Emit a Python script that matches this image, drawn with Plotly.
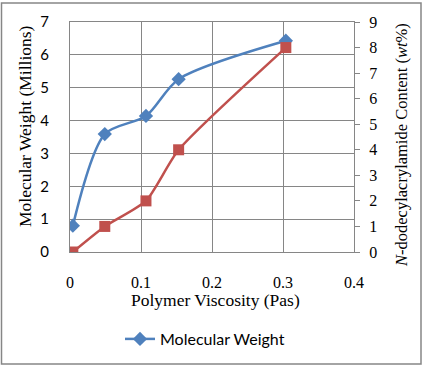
import plotly.graph_objects as go

viscosity = [0.004, 0.049, 0.107, 0.153, 0.304]
mol_weight = [0.80, 3.59, 4.14, 5.26, 6.43]
wt_content = [0, 1, 2, 4, 8]

x_ticks = [0, 0.1, 0.2, 0.3, 0.4]
x_tick_text = ["0", "0.1", "0.2", "0.3", "0.4"]

L, R, T, B = 70, 354, 22, 252
W, H = R - L, B - T

def px(x):
    return (x - L) / W

def py(y):
    return (B - y) / H

fig = go.Figure()
fig.add_trace(go.Scatter(
    x=viscosity, y=wt_content, yaxis="y2", mode="lines+markers",
    line=dict(color="#C0504D", width=2.5, shape="spline", smoothing=0.6),
    marker=dict(symbol="square", size=11, color="#C0504D"),
    name="N-dodecylacrylamide Content", showlegend=False))
fig.add_trace(go.Scatter(
    x=viscosity, y=mol_weight, mode="lines+markers",
    line=dict(color="#4F81BD", width=2.5, shape="spline", smoothing=0.8),
    marker=dict(symbol="diamond", size=11, color="#4F81BD"),
    name="Molecular Weight"))

grid = "#868686"
fig.update_layout(
    width=426, height=368,
    margin=dict(l=L, r=426 - R, t=T, b=368 - B, autoexpand=False),
    paper_bgcolor="white", plot_bgcolor="white",
    xaxis=dict(range=[0, 0.4], tickvals=x_ticks, ticktext=x_tick_text,
               showgrid=True, gridcolor=grid, gridwidth=1, zeroline=False,
               showline=True, linecolor=grid, mirror=True, ticks="",
               ticklabelstandoff=16, automargin=False,
               tickfont=dict(family="Liberation Serif", size=16, color="black")),
    yaxis=dict(range=[0, 7], dtick=1, showgrid=True, gridcolor=grid,
               zeroline=False, showline=True, linecolor=grid, mirror=True,
               ticks="", ticklabelstandoff=17, automargin=False,
               tickfont=dict(family="Lato", size=15, color="black")),
    yaxis2=dict(range=[0, 9], dtick=1, overlaying="y", side="right",
                showgrid=False, zeroline=False, showline=True, linecolor=grid,
                ticks="outside", ticklen=5, tickcolor=grid,
                ticklabelstandoff=6, automargin=False,
                tickfont=dict(family="Liberation Serif", size=16, color="black")),
    legend=dict(orientation="h", x=px(120), y=py(322), xanchor="left",
                yanchor="top", font=dict(family="Lato", size=16, color="black"),
                bgcolor="rgba(0,0,0,0)"),
    showlegend=True,
)

fig.add_annotation(text="Polymer Viscosity (Pas)", xref="paper", yref="paper",
                   x=px(215), y=py(300), showarrow=False,
                   xanchor="center", yanchor="middle",
                   font=dict(family="Liberation Serif", size=17.5, color="black"))
fig.add_annotation(text="Molecular Weight (Millions)", xref="paper", yref="paper",
                   x=px(25), y=py(126), showarrow=False, textangle=-90,
                   xanchor="center", yanchor="middle",
                   font=dict(family="Liberation Serif", size=17.5, color="black"))
fig.add_annotation(text="<i>N</i>-dodecylacrylamide Content (<i>wt</i>%)",
                   xref="paper", yref="paper",
                   x=px(401), y=py(145), showarrow=False, textangle=-90,
                   xanchor="center", yanchor="middle",
                   font=dict(family="Liberation Serif", size=16.5, color="black"))

fig.add_shape(type="rect", xref="paper", yref="paper",
              x0=px(1.5), x1=px(421), y0=py(364), y1=py(3),
              line=dict(color="#868686", width=1.5), layer="below")

fig.write_html("out.html", config={"displayModeBar": False},
               post_script="document.body.style.margin='0';document.body.style.padding='0';")
